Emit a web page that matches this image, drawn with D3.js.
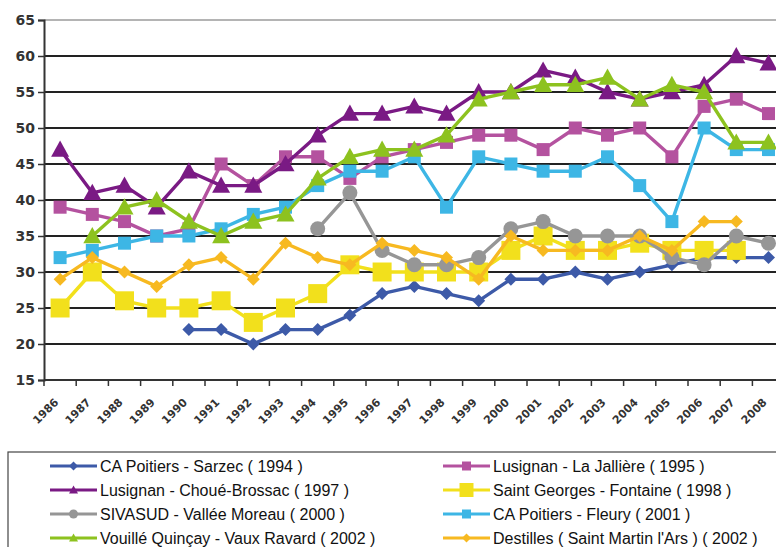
<!DOCTYPE html>
<html>
<head>
<meta charset="utf-8">
<script src="https://cdn.jsdelivr.net/npm/d3@7"></script>
<style>
  body { margin: 0; background: #fff; }
  svg { display: block; }
</style>
</head>
<body>
<div id="chart"></div>
<script>
// categories
const years = ["1986","1987","1988","1989","1990","1991","1992","1993","1994","1995","1996",
               "1997","1998","1999","2000","2001","2002","2003","2004","2005","2006","2007","2008"];
const yTicks = [15, 20, 25, 30, 35, 40, 45, 50, 55, 60, 65];

// series values (null = no measure)
const sarzec    = [null,null,null,null,22,22,20,22,22,24,27,28,27,26,29,29,30,29,30,31,32,32,32];
const jalliere  = [39,38,37,35,36,45,42,46,46,43,46,47,48,49,49,47,50,49,50,46,53,54,52];
const choue     = [47,41,42,39,44,42,42,45,49,52,52,53,52,55,55,58,57,55,54,55,56,60,59];
const fontaine  = [25,30,26,25,25,26,23,25,27,31,30,30,30,30,33,35,33,33,34,33,33,33,null];
const sivasud   = [null,null,null,null,null,null,null,null,36,41,33,31,31,32,36,37,35,35,35,32,31,35,34];
const fleury    = [32,33,34,35,35,36,38,39,42,44,44,46,39,46,45,44,44,46,42,37,50,47,47];
const vouille   = [null,35,39,40,37,35,37,38,43,46,47,47,49,54,55,56,56,57,54,56,55,48,48];
const destilles = [29,32,30,28,31,32,29,34,32,31,34,33,32,29,35,33,33,33,35,33,37,37,null];

const seriesNames = [
  "CA Poitiers - Sarzec ( 1994 )",
  " Lusignan - La Jallière ( 1995 )",
  " Lusignan - Choué-Brossac ( 1997 )",
  "Saint Georges - Fontaine ( 1998 )",
  "SIVASUD - Vallée Moreau ( 2000 )",
  "CA Poitiers - Fleury ( 2001 )",
  "Vouillé Quinçay - Vaux Ravard ( 2002 )",
  "Destilles ( Saint Martin l'Ars ) ( 2002 )"
];

const series = [
  { name: seriesNames[0], values: sarzec,    color: "#3d5aa8", shape: "diamond",  size: 13 },
  { name: seriesNames[1], values: jalliere,  color: "#b4529f", shape: "square",   size: 13 },
  { name: seriesNames[2], values: choue,     color: "#7a1a84", shape: "triangle", size: 18 },
  { name: seriesNames[3], values: fontaine,  color: "#f2e01c", shape: "square",   size: 19 },
  { name: seriesNames[4], values: sivasud,   color: "#969696", shape: "circle",   size: 15 },
  { name: seriesNames[5], values: fleury,    color: "#3db6e5", shape: "square",   size: 13 },
  { name: seriesNames[6], values: vouille,   color: "#8dc21f", shape: "triangle", size: 18 },
  { name: seriesNames[7], values: destilles, color: "#f7b921", shape: "diamond",  size: 13 }
];

const w = 776, h = 547;
const marginLeft = 44, plotTop = 20, plotBottom = 380;
const step = 32.2;

const svg = d3.select("#chart").append("svg")
  .attr("width", w).attr("height", h);

const x = d3.scaleBand().domain(years).range([marginLeft, marginLeft + step * years.length]);
const y = d3.scaleLinear().domain([15, 65]).range([plotBottom, plotTop]);
const cx = d => x(d) + x.bandwidth() / 2;

// gridlines
svg.append("g").selectAll("line")
  .data(yTicks.filter(t => t > 15))
  .enter().append("line")
  .attr("x1", marginLeft).attr("x2", w)
  .attr("y1", d => y(d)).attr("y2", d => y(d))
  .attr("stroke", d => d === 65 ? "#b4b4b4" : "#222")
  .attr("stroke-width", d => d === 65 ? 2 : 1.8);

// y axis
const yAxis = svg.append("g")
  .attr("transform", `translate(${marginLeft},0)`)
  .call(d3.axisLeft(y).tickValues(yTicks).tickSize(6).tickPadding(3));
yAxis.select(".domain").attr("stroke", "#333").attr("stroke-width", 2);
yAxis.selectAll(".tick line").attr("stroke", "#333").attr("stroke-width", 1.5);
yAxis.selectAll("text")
  .attr("font-family", "'DejaVu Sans', sans-serif")
  .attr("font-weight", "bold")
  .attr("font-size", 14).attr("fill", "#333");

// x axis line and tick marks between categories
svg.append("line")
  .attr("x1", marginLeft).attr("x2", w)
  .attr("y1", y(15)).attr("y2", y(15))
  .attr("stroke", "#333").attr("stroke-width", 2);
svg.append("g").selectAll("line")
  .data(years)
  .enter().append("line")
  .attr("x1", d => x(d)).attr("x2", d => x(d))
  .attr("y1", y(15)).attr("y2", y(15) + 6)
  .attr("stroke", "#333").attr("stroke-width", 1.5);

// x labels, rotated
svg.append("g").selectAll("text")
  .data(years)
  .enter().append("text")
  .attr("transform", d => `translate(${cx(d) - 1},${y(15) + 23}) rotate(-45)`)
  .attr("text-anchor", "end")
  .attr("font-family", "'DejaVu Sans', sans-serif")
  .attr("font-weight", "bold")
  .attr("font-size", 11).attr("fill", "#333")
  .text(d => d);

// marker path builder
function marker(shape, s) {
  const r = s / 2;
  if (shape === "diamond") return `M0,${-r}L${r},0L0,${r}L${-r},0Z`;
  if (shape === "square") return `M${-r},${-r}H${r}V${r}H${-r}Z`;
  if (shape === "triangle") return `M0,${-r}L${r},${r * 0.8}L${-r},${r * 0.8}Z`;
  return d3.symbol(d3.symbolCircle, Math.PI * r * r)();
}

const line = d3.line()
  .defined(d => d.v !== null)
  .x(d => cx(d.year))
  .y(d => y(d.v));

// series: line then markers, in order
series.forEach(s => {
  const pts = years.map((yr, i) => ({ year: yr, v: s.values[i] }));
  const g = svg.append("g");
  g.append("path")
    .datum(pts)
    .attr("d", line)
    .attr("fill", "none")
    .attr("stroke", s.color)
    .attr("stroke-width", 3.4)
    .attr("stroke-linejoin", "round");
  g.selectAll("path.m")
    .data(pts.filter(d => d.v !== null))
    .enter().append("path")
    .attr("class", "m")
    .attr("transform", d => `translate(${cx(d.year)},${y(d.v)})`)
    .attr("d", marker(s.shape, s.size))
    .attr("fill", s.color);
});

// legend
const lg = svg.append("g");
lg.append("rect")
  .attr("x", 8).attr("y", 452)
  .attr("width", 800).attr("height", 120)
  .attr("fill", "#fff").attr("stroke", "#444").attr("stroke-width", 1.2);

const colX = [50, 443];
const rowY = [466, 490, 514, 538];
series.forEach((s, i) => {
  const gx = colX[i % 2], gy = rowY[Math.floor(i / 2)];
  const item = lg.append("g").attr("transform", `translate(${gx},${gy})`);
  item.append("line")
    .attr("x1", 0).attr("x2", 47).attr("y1", 0).attr("y2", 0)
    .attr("stroke", s.color).attr("stroke-width", 3);
  item.append("path")
    .attr("transform", "translate(23.5,0)")
    .attr("d", marker(s.shape, s.name.startsWith("Saint") ? 14 : 9))
    .attr("fill", s.color);
  item.append("text")
    .attr("x", 50).attr("y", 5.5)
    .attr("font-family", "'Liberation Sans', Arial, sans-serif")
    .attr("font-size", 16).attr("fill", "#111")
    .text(s.name);
});
</script>
</body>
</html>
